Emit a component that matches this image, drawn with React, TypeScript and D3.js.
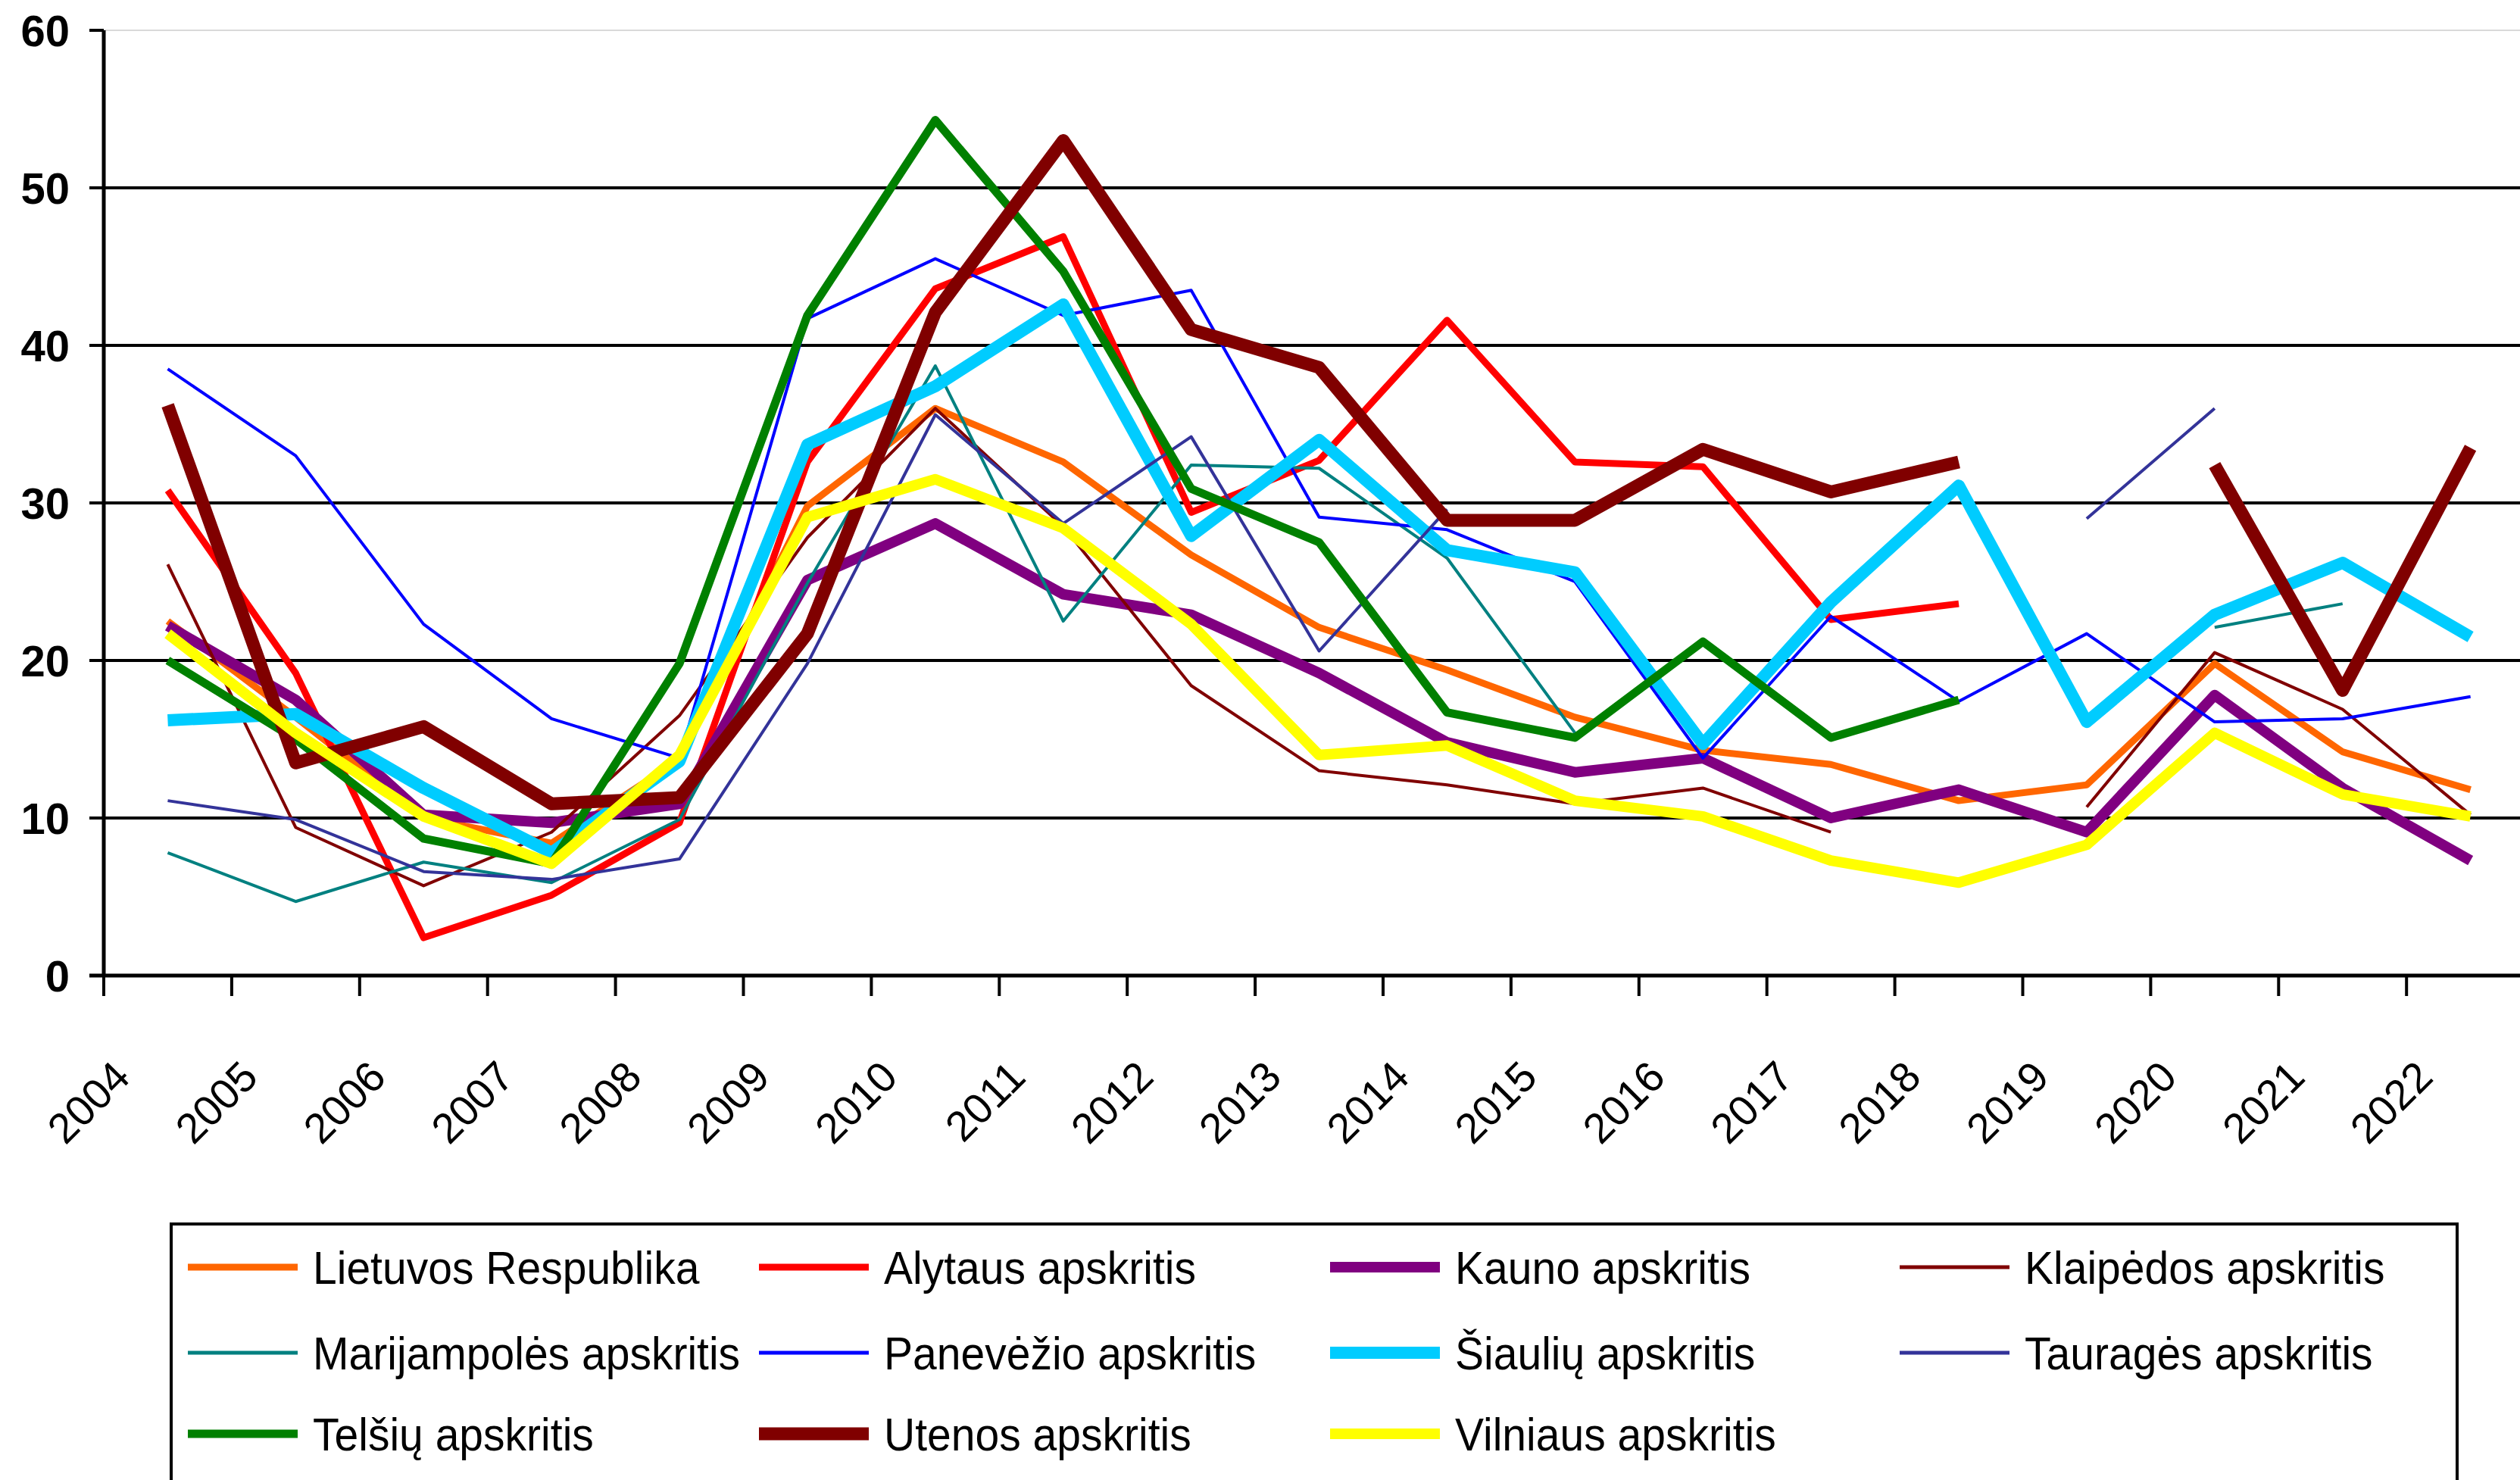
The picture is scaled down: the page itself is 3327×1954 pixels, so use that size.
import * as d3 from "d3";
import { useEffect, useRef } from "react";

// year categories
const years = [
  "2004", "2005", "2006", "2007", "2008", "2009", "2010", "2011", "2012", "2013",
  "2014", "2015", "2016", "2017", "2018", "2019", "2020", "2021", "2022",
];
const yTicks = [0, 10, 20, 30, 40, 50, 60];

// values per county (null = no value)
const lietuvos = [22.5, 16.4, 10.0, 8.4, 13.7, 29.8, 36.0, 32.6, 26.7, 22.1, 19.4, 16.4, 14.3, 13.4, 11.1, 12.1, 19.8, 14.2, 11.8];
const alytaus = [30.8, 19.2, 2.4, 5.1, 9.7, 32.6, 43.6, 46.9, 29.4, 32.7, 41.6, 32.6, 32.3, 22.6, 23.6, null, null, null, null];
const kauno = [22.2, 17.5, 10.2, 9.7, 10.9, 25.1, 28.7, 24.2, 22.9, 19.2, 14.8, 12.9, 13.8, 10.0, 11.8, 9.1, 17.8, 11.9, 7.3];
const klaipedos = [26.1, 9.4, 5.7, 9.1, 16.5, 27.8, 36.0, 28.5, 18.4, 13.0, 12.1, 10.9, 11.9, 9.1, null, 10.7, 20.5, 16.9, 10.2];
const marijampoles = [7.8, 4.7, 7.2, 5.9, 9.9, 24.9, 38.7, 22.5, 32.4, 32.2, 26.5, 15.4, null, null, null, null, 22.1, 23.6, null];
const panevezio = [38.5, 33.0, 22.3, 16.3, 13.8, 41.7, 45.5, 41.9, 43.5, 29.1, 28.3, 25.0, 13.8, 22.8, 17.4, 21.7, 16.1, 16.3, 17.7];
const siauliu = [16.2, 16.6, 11.9, 7.8, 13.6, 33.7, 37.4, 42.6, 27.9, 34.0, 27.0, 25.6, 14.7, 23.7, 31.1, 16.1, 22.9, 26.2, 21.5];
const taurages = [11.1, 9.9, 6.6, 6.1, 7.4, 19.8, 35.6, 28.7, 34.2, 20.6, 29.6, null, null, null, null, 29.0, 36.0, null, null];
const telsiu = [20.0, 15.0, 8.7, 7.1, 19.8, 41.9, 54.3, 44.7, 30.9, 27.5, 16.7, 15.1, 21.2, 15.1, 17.5, null, null, null, null];
const utenos = [36.2, 13.5, 15.8, 10.9, 11.3, 21.7, 42.1, 53.0, 41.0, 38.6, 28.9, 28.9, 33.4, 30.7, 32.6, null, 32.4, 18.1, 33.5];
const vilniaus = [21.7, 15.4, 10.1, 7.1, 14.0, 29.1, 31.5, 28.4, 22.3, 14.0, 14.6, 11.1, 10.1, 7.3, 5.9, 8.3, 15.4, 11.5, 10.1];

const series = [
  { name: "Lietuvos Respublika", values: lietuvos, color: "#FF6600", width: 9 },
  { name: "Alytaus apskritis", values: alytaus, color: "#FF0000", width: 9 },
  { name: "Kauno apskritis", values: kauno, color: "#800080", width: 14 },
  { name: "Klaipėdos apskritis", values: klaipedos, color: "#800000", width: 4 },
  { name: "Marijampolės apskritis", values: marijampoles, color: "#008080", width: 4 },
  { name: "Panevėžio apskritis", values: panevezio, color: "#0000FF", width: 4 },
  { name: "Šiaulių apskritis", values: siauliu, color: "#00CCFF", width: 16 },
  { name: "Tauragės apskritis", values: taurages, color: "#333399", width: 4 },
  { name: "Telšių apskritis", values: telsiu, color: "#008000", width: 11 },
  { name: "Utenos apskritis", values: utenos, color: "#800000", width: 17 },
  { name: "Vilniaus apskritis", values: vilniaus, color: "#FFFF00", width: 14 },
];

const FONT = "'Liberation Sans', Arial, sans-serif";

export default function App() {
  const svgRef = useRef<SVGSVGElement>(null);
  const width = 3327;
  const height = 1954;

  useEffect(() => {
    const svg = d3.select(svgRef.current);
    svg.selectAll("*").remove();

    const left = 137;
    const band = 168.9;
    const x = d3.scaleBand<string>()
      .domain(years)
      .range([left, left + band * years.length]);
    const y = d3.scaleLinear().domain([0, 60]).range([1288, 40]);
    const cx = (yr: string) => x(yr)! + x.bandwidth() / 2;

    svg.append("rect").attr("width", width).attr("height", height).attr("fill", "#fff");

    // grid lines (top one is a light border line)
    svg.selectAll("line.grid")
      .data(yTicks.filter(t => t > 0))
      .enter()
      .append("line")
      .attr("x1", left)
      .attr("x2", width)
      .attr("y1", d => y(d))
      .attr("y2", d => y(d))
      .attr("stroke", d => (d === 60 ? "#cccccc" : "#000"))
      .attr("stroke-width", d => (d === 60 ? 1.5 : 4));

    // y ticks + labels
    svg.selectAll("line.ytick")
      .data(yTicks)
      .enter()
      .append("line")
      .attr("x1", 118)
      .attr("x2", left)
      .attr("y1", d => y(d))
      .attr("y2", d => y(d))
      .attr("stroke", "#000")
      .attr("stroke-width", 4);

    svg.selectAll("text.ylab")
      .data(yTicks)
      .enter()
      .append("text")
      .attr("x", 92)
      .attr("y", d => y(d))
      .attr("dy", "0.36em")
      .attr("text-anchor", "end")
      .attr("font-family", FONT)
      .attr("font-weight", "bold")
      .attr("font-size", 58)
      .text(d => d);

    // series lines
    const line = d3.line<number | null>()
      .defined(d => d != null)
      .x((_, i) => cx(years[i]))
      .y(d => y(d as number));

    svg.append("g")
      .selectAll("path")
      .data(series)
      .enter()
      .append("path")
      .attr("d", d => line(d.values))
      .attr("fill", "none")
      .attr("stroke", d => d.color)
      .attr("stroke-width", d => d.width)
      .attr("stroke-linejoin", "round")
      .attr("stroke-linecap", "butt");

    // axes
    svg.append("line")
      .attr("x1", left).attr("x2", left)
      .attr("y1", y(60)).attr("y2", y(0) + 2)
      .attr("stroke", "#000").attr("stroke-width", 5);
    svg.append("line")
      .attr("x1", 118).attr("x2", width)
      .attr("y1", y(0)).attr("y2", y(0))
      .attr("stroke", "#000").attr("stroke-width", 5);

    const bounds = d3.range(years.length + 1).map(i => left + band * i);
    svg.selectAll("line.xtick")
      .data(bounds)
      .enter()
      .append("line")
      .attr("x1", d => d).attr("x2", d => d)
      .attr("y1", y(0)).attr("y2", y(0) + 27)
      .attr("stroke", "#000").attr("stroke-width", 4);

    svg.selectAll("text.xlab")
      .data(years)
      .enter()
      .append("text")
      .attr("transform", d => `translate(${cx(d) - 47},1425) rotate(-45)`)
      .attr("text-anchor", "end")
      .attr("font-family", FONT)
      .attr("font-size", 56)
      .text(d => d);

    // legend box
    const lg = svg.append("g");
    lg.append("rect")
      .attr("x", 226).attr("y", 1616)
      .attr("width", 3244 - 226).attr("height", 400)
      .attr("fill", "#fff")
      .attr("stroke", "#000").attr("stroke-width", 4);

    const colX = [248, 1002, 1756, 2508];
    const rowY = [1673, 1786, 1893];
    const items = lg.selectAll("g.item")
      .data(series)
      .enter()
      .append("g")
      .attr("transform", (_, i) => `translate(${colX[i % 4]},${rowY[Math.floor(i / 4)]})`);
    items.append("line")
      .attr("x1", 0).attr("x2", 145)
      .attr("stroke", d => d.color)
      .attr("stroke-width", d => Math.max(d.width, 5));
    items.append("text")
      .attr("transform", "translate(165,22) scale(0.92,1)")
      .attr("font-family", FONT)
      .attr("font-size", 62)
      .text(d => d.name);
  }, []);

  return (
    <svg
      ref={svgRef}
      width={width}
      height={height}
      style={{ position: "absolute", left: 0, top: 0, display: "block" }}
    />
  );
}
